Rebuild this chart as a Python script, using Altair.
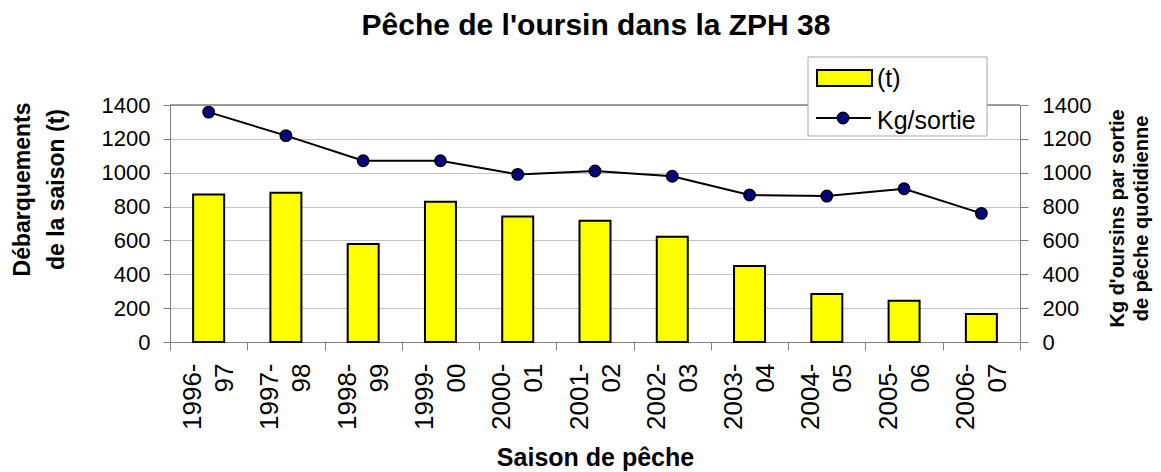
import altair as alt
import pandas as pd

seasons = ["1996-97", "1997-98", "1998-99", "1999-00", "2000-01", "2001-02",
           "2002-03", "2003-04", "2004-05", "2005-06", "2006-07"]
landings_t = [872, 882, 579, 829, 742, 716, 622, 449, 283, 244, 165]
kg_per_trip = [1358, 1219, 1071, 1071, 990, 1010, 979, 868, 862, 905, 760]
y_ticks = [0, 200, 400, 600, 800, 1000, 1200, 1400]
chart_title = "Pêche de l'oursin dans la ZPH 38"

FONT = "Liberation Sans"
df = pd.DataFrame({"season": seasons, "tonnes": landings_t, "kg": kg_per_trip})

W, H = 850, 237

xenc = alt.X(
    "season:N", sort=None,
    scale=alt.Scale(paddingInner=0, paddingOuter=0),
    axis=alt.Axis(
        title="Saison de pêche", titleFontSize=25, titleFontWeight="bold",
        titleFont=FONT, titleColor="black", titlePadding=16,
        labelExpr="[slice(datum.label, 0, 5), slice(datum.label, 5)]",
        labelAngle=270, labelAlign="right", labelBaseline="middle",
        labelFontSize=26, labelFont=FONT, labelColor="black",
        labelLineHeight=32, labelPadding=13, labelOffset=-16,
        tickBand="extent", tickSize=8, tickColor="#808080",
        domainColor="#808080", grid=False,
    ),
)

bars = alt.Chart(df).mark_bar(
    color="#ffff00", stroke="black", strokeWidth=2, size=31
).encode(
    x=xenc,
    y=alt.Y(
        "tonnes:Q", scale=alt.Scale(domain=[0, 1400]),
        axis=alt.Axis(
            values=y_ticks, format="d", grid=True, gridColor="#c4c4c4",
            domainColor="#808080", tickColor="#808080", tickSize=7,
            labelFontSize=22, labelFont=FONT, labelColor="black", labelPadding=13,
            title=["Débarquements", "de la saison (t)"], titleFontSize=23,
            titleFontWeight="bold", titleFont=FONT, titleColor="black",
            titleLineHeight=34, titleBaseline="middle", titleX=-148, titleY=84,
            titleAngle=270,
        ),
    ),
)

line = alt.Chart(df).mark_line(
    color="black", strokeWidth=2,
    point=alt.OverlayMarkDef(filled=True, fill="#000080", stroke="black",
                             strokeWidth=1.5, size=130, opacity=1),
).encode(
    x=alt.X("season:N", sort=None),
    y=alt.Y(
        "kg:Q", scale=alt.Scale(domain=[0, 1400]),
        axis=alt.Axis(
            orient="right", values=y_ticks, format="d", grid=False,
            domainColor="#808080", tickColor="#808080", tickSize=8,
            labelFontSize=22, labelFont=FONT, labelColor="black", labelPadding=14,
            title=["Kg d'oursins par sortie", "de pêche quotidienne"],
            titleFontSize=20, titleFontWeight="bold", titleFont=FONT,
            titleColor="black", titleLineHeight=24, titleBaseline="middle",
            titleAngle=270, titleX=97, titleY=113,
        ),
    ),
)

one = pd.DataFrame({"k": [0]})
title_txt = alt.Chart(one).mark_text(
    text=chart_title, font=FONT, fontSize=30, fontWeight="bold",
    align="center", baseline="alphabetic", color="black"
).encode(x=alt.value(W / 2 + 1), y=alt.value(-70))
top_border = alt.Chart(one).mark_rule(color="#808080", strokeWidth=1.5).encode(
    x=alt.value(0), x2=alt.value(W), y=alt.value(0)
)
leg_box = alt.Chart(one).mark_rect(fill="white", stroke="#a8a8a8", strokeWidth=1).encode(
    x=alt.value(638), x2=alt.value(817), y=alt.value(-48), y2=alt.value(31)
)
leg_bar = alt.Chart(one).mark_rect(fill="#ffff00", stroke="black", strokeWidth=2).encode(
    x=alt.value(647), x2=alt.value(702), y=alt.value(-35), y2=alt.value(-19)
)
leg_t = alt.Chart(one).mark_text(
    text="(t)", font=FONT, fontSize=25, align="left", baseline="alphabetic", color="black"
).encode(x=alt.value(707), y=alt.value(-18))
leg_line = alt.Chart(one).mark_rule(color="black", strokeWidth=2).encode(
    x=alt.value(646), x2=alt.value(701), y=alt.value(13)
)
leg_pt = alt.Chart(one).mark_point(
    filled=True, fill="#000080", stroke="black", strokeWidth=1.5, size=130, opacity=1
).encode(x=alt.value(673), y=alt.value(13))
leg_kg = alt.Chart(one).mark_text(
    text="Kg/sortie", font=FONT, fontSize=25, align="left", baseline="alphabetic", color="black"
).encode(x=alt.value(707), y=alt.value(24))

chart = alt.layer(
    bars, line, title_txt, top_border, leg_box, leg_bar, leg_t, leg_line, leg_pt, leg_kg
).resolve_scale(
    y="independent"
).properties(
    width=W, height=H,
    autosize=alt.AutoSizeParams(type="none"),
    padding={"left": 162, "top": 97, "right": 133, "bottom": 130},
).configure_view(stroke=None).configure(background="white")

chart.save("out.html", embed_options={"renderer": "svg", "actions": False})
